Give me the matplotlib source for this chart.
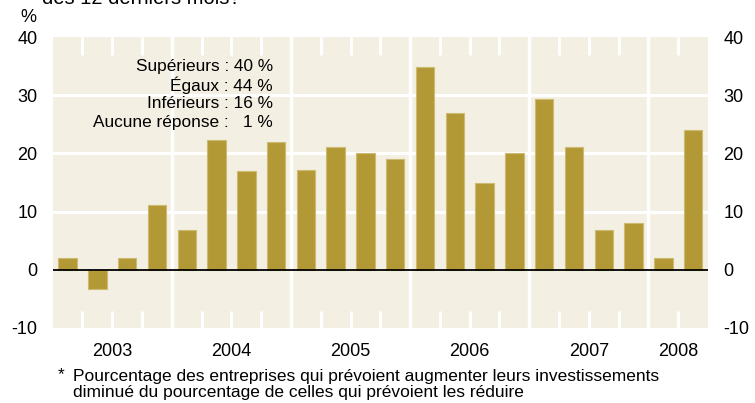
import matplotlib
matplotlib.use("Agg")
import matplotlib.pyplot as plt
import numpy as np

plt.rcParams['font.family'] = ['Liberation Sans', 'DejaVu Sans']

# Data
values = [2.0, -3.3, 2.0, 11.1, 6.9, 22.4, 17.0, 22.0, 17.1, 21.1, 20.0, 19.1,
          34.9, 27.0, 15.0, 20.0, 29.3, 21.1, 6.9, 8.1, 2.0, 24.0]
years = ['2003', '2004', '2005', '2006', '2007', '2008']
quarters_per_year = [4, 4, 4, 4, 4, 2]
yticks = [-10, 0, 10, 20, 30, 40]
legend_lines = ['Supérieurs : 40 %', 'Égaux : 44 %', 'Inférieurs : 16 %',
                'Aucune réponse :   1 %']
footnote1 = 'Pourcentage des entreprises qui prévoient augmenter leurs investissements'
footnote2 = 'diminué du pourcentage de celles qui prévoient les réduire'
title_tail = 'des 12 derniers mois?'

W, H = 755, 403
fig = plt.figure(figsize=(W / 100, H / 100), dpi=100)
left, right, top, bottom = 52.7, 708, 37.3, 327.7
ax = fig.add_axes([left / W, 1 - bottom / H, (right - left) / W, (bottom - top) / H])

bg = '#F3EFE2'
ax.set_facecolor(bg)
n = len(values)
ax.set_xlim(0, n)
ax.set_ylim(-10, 40)

# horizontal white gridlines
for g in [10, 20, 30]:
    ax.axhline(g, color='white', lw=2.2, zorder=1)

# year boundaries and quarter ticks
bounds = np.cumsum(quarters_per_year)[:-1]
for b in bounds:
    ax.axvline(b, color='white', lw=2.5, zorder=1)
for q in range(1, n):
    if q not in bounds:
        ax.plot([q, q], [36.9, 40], color='white', lw=2.2, zorder=1, solid_capstyle='butt')
        ax.plot([q, q], [-10, -7.2], color='white', lw=2.2, zorder=1, solid_capstyle='butt')

x = np.arange(n) + 0.5
ax.bar(x, values, width=0.62, color='#B39935', edgecolor='#CDBB72', linewidth=0.8, zorder=2)
ax.axhline(0, color='black', lw=1.3, zorder=3)

for s in ax.spines.values():
    s.set_visible(False)

ax.set_yticks(yticks)
ax.set_yticklabels([str(t) for t in yticks])
ax.tick_params(axis='y', length=0, pad=11, labelsize=13, labelleft=True, labelright=True)

starts = np.concatenate([[0], np.cumsum(quarters_per_year)[:-1]])
centers = starts + np.array(quarters_per_year) / 2
ax.set_xticks(centers)
ax.set_xticklabels(years)
ax.tick_params(axis='x', length=0, pad=11, labelsize=13)

# texts
fig.text(42 / W, 1 - 4.5 / H, title_tail, ha='left', va='baseline', fontsize=14.5)
fig.text(20 / W, 1 - 18 / H, '%', ha='left', va='center', fontsize=13)

ys = [66, 85, 103.5, 122]
for line, yy in zip(legend_lines, ys):
    fig.text(272.7 / W, 1 - yy / H, line, ha='right', va='center', fontsize=12.4)

fig.text(58 / W, 1 - 375 / H, '*', ha='left', va='center', fontsize=12.5)
fig.text(73 / W, 1 - 376 / H, footnote1, ha='left', va='center', fontsize=12.5)
fig.text(73 / W, 1 - 392 / H, footnote2, ha='left', va='center', fontsize=12.5)

fig.savefig('out.png', dpi=100, facecolor='white')
